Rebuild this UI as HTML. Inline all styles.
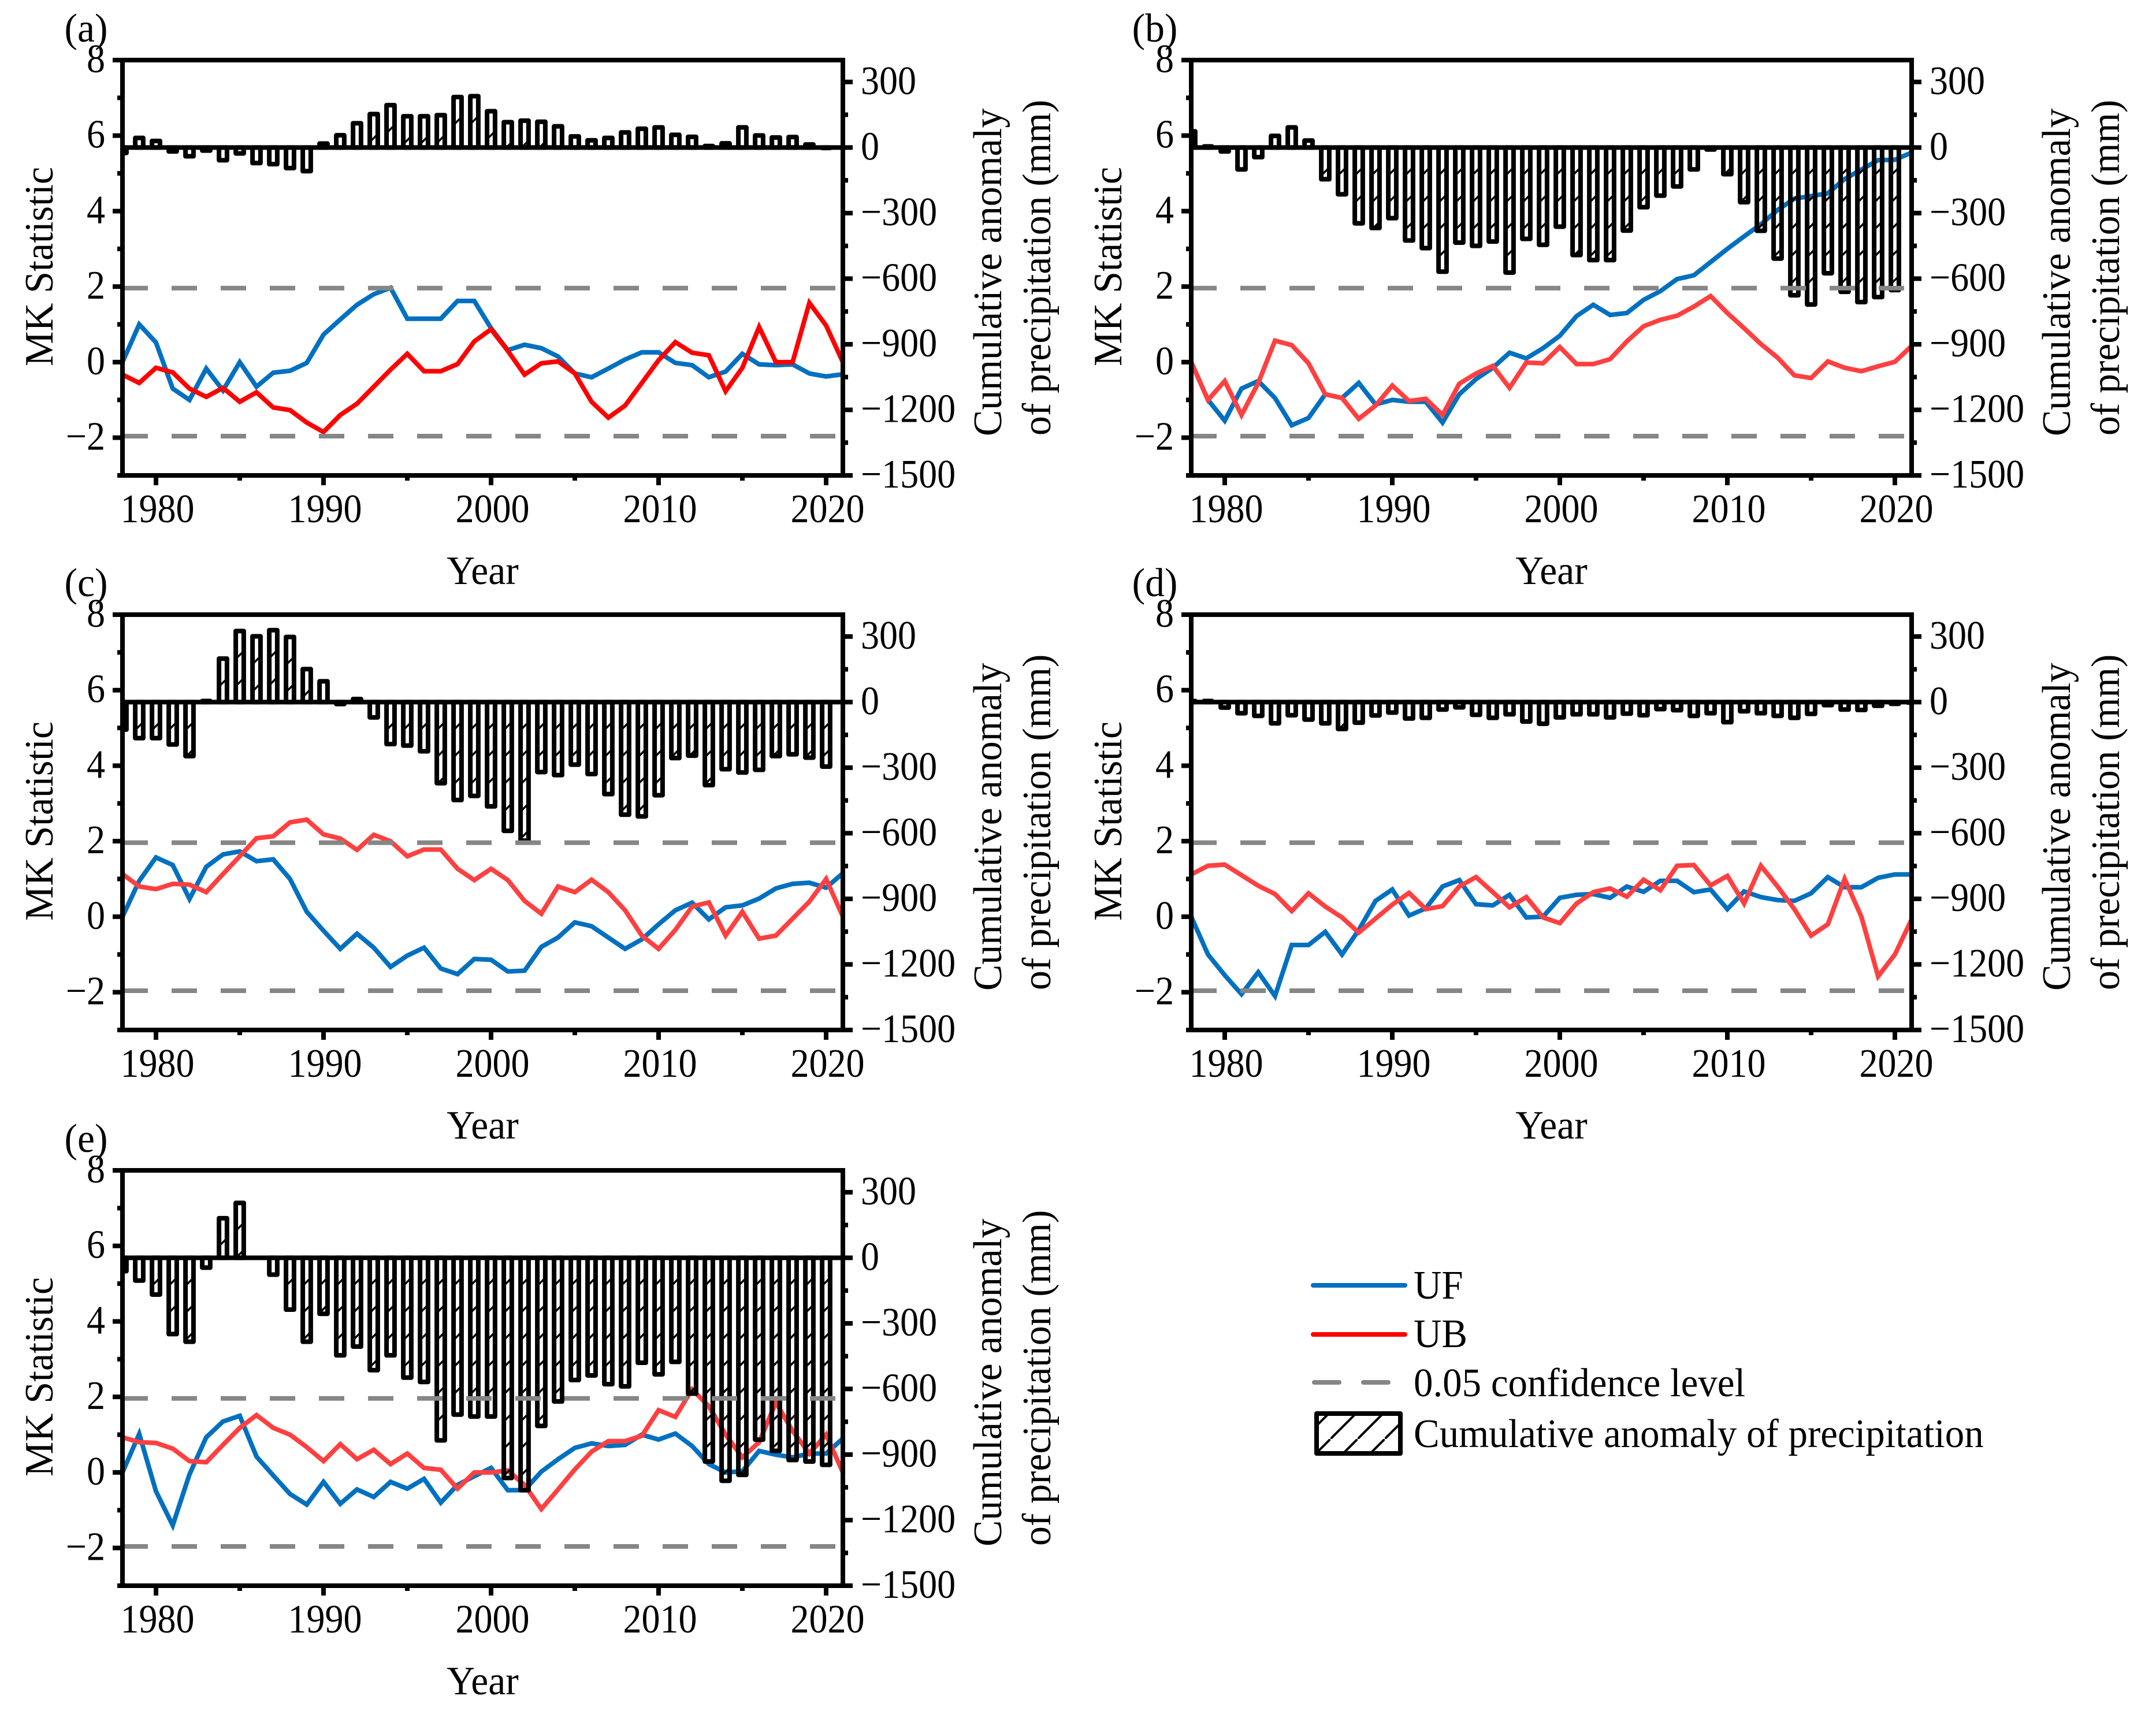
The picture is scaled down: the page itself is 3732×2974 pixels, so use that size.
<!DOCTYPE html>
<html lang="en">
<head>
<meta charset="utf-8">
<title>Mann-Kendall statistic and cumulative precipitation anomaly</title>
<style>
html,body{margin:0;padding:0;background:#fff;}
svg{display:block;}
text{font-family:"Liberation Serif","Times New Roman",serif;fill:#000;}
</style>
</head>
<body>
<svg id="chart" xmlns="http://www.w3.org/2000/svg" width="3732" height="2974" viewBox="0 0 3732 2974">
  <defs>
    <pattern id="hatch" patternUnits="userSpaceOnUse" width="47" height="47">
      <line x1="-4" y1="51" x2="51" y2="-4" stroke="#000" stroke-width="4"/>
    </pattern>
  </defs>
  <rect x="0" y="0" width="3732" height="2974" fill="#fff"/>
  <g id="panels"></g>
  <g id="legend">
    <line x1="2273" y1="2225" x2="2432" y2="2225" stroke="#0070C0" stroke-width="8" stroke-linecap="round"/>
    <text transform="translate(2447,2248) scale(.956,1)" font-size="70">UF</text>
    <line x1="2273" y1="2310" x2="2432" y2="2310" stroke="#FF0000" stroke-width="8" stroke-linecap="round"/>
    <text transform="translate(2447,2332) scale(.956,1)" font-size="70">UB</text>
    <line x1="2275" y1="2393" x2="2318" y2="2393" stroke="#868686" stroke-width="8" stroke-linecap="round"/>
    <line x1="2360" y1="2393" x2="2403" y2="2393" stroke="#868686" stroke-width="8" stroke-linecap="round"/>
    <text transform="translate(2447,2417) scale(.956,1)" font-size="70">0.05 confidence level</text>
    <rect x="2279" y="2447" width="145" height="69" fill="url(#hatch)" stroke="#000" stroke-width="8" stroke-linejoin="round"/>
    <text transform="translate(2447,2505) scale(.956,1)" font-size="70">Cumulative anomaly of precipitation</text>
  </g>
</svg>
<script>
// ---------- data ----------
const startYear = 1978;
const endYear = 2021;
const mkTickValues = [8, 6, 4, 2, 0, -2];
const mkMinorValues = [7, 5, 3, 1, -1, -3];
const mmTickValues = [300, 0, -300, -600, -900, -1200, -1500];
const mmMinorValues = [150, -150, -450, -750, -1050, -1350];
const yearTickValues = [1980, 1990, 2000, 2010, 2020];
const yearMinorValues = [1985, 1995, 2005, 2015];
const confidenceLevels = [1.96, -1.96];

const barsA = [-25,44,30,-18,-40,-14,-58,-27,-71,-76,-94,-108,18,56,111,153,194,143,143,148,231,235,166,116,123,118,97,51,33,44,69,86,92,58,49,7,19,92,55,46,48,14,-2,0];
const ufA = [0,1.0,.52,-.7,-1.0,-.17,-.75,0,-.65,-.28,-.23,-.02,.73,1.13,1.52,1.8,1.97,1.15,1.15,1.15,1.62,1.62,.9,.32,.46,.37,.15,-.3,-.4,-.17,.07,.26,.26,-.02,-.08,-.4,-.25,.22,-.06,-.08,-.06,-.3,-.38,-.32];
const ubA = [-.33,-.55,-.15,-.27,-.7,-.92,-.68,-1.05,-.8,-1.2,-1.27,-1.6,-1.85,-1.4,-1.1,-.65,-.2,.22,-.24,-.24,-.05,.55,.87,.3,-.33,-.03,.02,-.3,-1.05,-1.47,-1.15,-.55,.05,.53,.25,.18,-.77,-.15,.93,0,0,1.57,.97,0];

const barsB = [74,5,-18,-100,-44,53,92,32,-145,-214,-347,-368,-323,-425,-460,-568,-435,-450,-430,-572,-418,-445,-362,-492,-515,-515,-380,-273,-220,-178,-100,-9,-122,-250,-381,-508,-676,-718,-575,-660,-707,-684,-652,0];
const ufB = [0,-1.0,-1.55,-.7,-.5,-.95,-1.67,-1.48,-.85,-.95,-.55,-1.12,-1.0,-1.05,-1.05,-1.6,-.85,-.45,-.15,.25,.1,.37,.7,1.22,1.52,1.25,1.3,1.65,1.88,2.2,2.3,2.65,3.0,3.33,3.65,4.03,4.33,4.4,4.47,4.85,5.1,5.35,5.36,5.55];
const ubB = [0,-1.0,-.5,-1.4,-.55,.57,.45,-.03,-.85,-.95,-1.5,-1.15,-.62,-1.03,-.97,-1.4,-.57,-.3,-.1,-.68,-.01,-.03,.4,-.05,-.05,.08,.55,.95,1.12,1.23,1.47,1.75,1.3,.9,.48,.12,-.35,-.42,.02,-.15,-.24,-.11,.01,.43];

const barsC = [-126,-165,-165,-194,-247,5,199,325,301,329,298,151,95,-9,14,-70,-192,-199,-225,-371,-448,-429,-477,-589,-634,-320,-334,-286,-329,-421,-515,-523,-426,-256,-245,-380,-307,-322,-310,-247,-239,-254,-295,0];
const ufC = [0,.95,1.57,1.37,.47,1.32,1.65,1.73,1.47,1.52,1.0,.13,-.37,-.85,-.45,-.82,-1.33,-1.03,-.82,-1.37,-1.52,-1.12,-1.14,-1.45,-1.43,-.8,-.55,-.15,-.25,-.55,-.85,-.6,-.2,.17,.37,-.07,.25,.3,.48,.75,.87,.9,.77,1.15];
const ubC = [1.13,.8,.73,.87,.85,.65,1.13,1.6,2.08,2.13,2.5,2.57,2.18,2.07,1.77,2.17,2.0,1.6,1.78,1.78,1.27,.97,1.27,.97,.42,.08,.8,.65,.98,.65,.17,-.5,-.85,-.35,.27,.38,-.5,.13,-.58,-.5,-.05,.4,1.0,0];

const barsD = [5,5,-25,-51,-63,-97,-60,-80,-97,-123,-94,-61,-48,-75,-72,-34,-24,-58,-72,-56,-89,-99,-70,-56,-56,-70,-53,-60,-32,-37,-63,-51,-92,-42,-51,-63,-72,-54,-14,-34,-36,-17,-8,-2];
const ufD = [0,-1.0,-1.55,-2.05,-1.47,-2.1,-.75,-.75,-.4,-1.0,-.35,.42,.72,.03,.22,.8,.97,.33,.3,.58,-.02,0,.5,.58,.6,.5,.8,.66,.95,.95,.65,.72,.2,.67,.52,.44,.42,.62,1.05,.78,.78,1.03,1.12,1.12];
const ubD = [1.12,1.35,1.38,1.1,.82,.6,.15,.62,.27,-.02,-.42,-.05,.32,.63,.2,.28,.8,1.05,.65,.25,.52,-.02,-.17,.35,.65,.75,.53,.98,.7,1.35,1.37,.83,1.08,.35,1.35,.8,.2,-.5,-.2,1.0,0,-1.58,-1.0,-.07];

const barsE = [-61,-104,-168,-349,-384,-45,181,251,0,-77,-237,-384,-256,-446,-406,-514,-446,-548,-568,-835,-717,-726,-726,-1007,-1063,-769,-657,-559,-538,-578,-588,-480,-533,-476,-621,-932,-1020,-993,-832,-883,-925,-932,-947,0];
const ufE = [0,1.02,-.5,-1.4,-.05,.93,1.35,1.5,.42,-.08,-.57,-.85,-.25,-.83,-.45,-.65,-.25,-.43,-.17,-.8,-.33,-.1,.12,-.47,-.47,.02,.35,.65,.77,.7,.73,1.0,.87,1.03,.7,.22,0,.03,.57,.47,.4,.5,.5,.9];
const ubE = [.93,.8,.78,.63,.3,.27,.73,1.18,1.52,1.18,1.0,.67,.3,.75,.35,.6,.22,.5,.12,.07,-.43,0,0,.05,-.33,-.97,-.45,.08,.55,.83,.83,.97,1.65,1.47,2.2,1.75,1.0,.4,.8,1.85,1.1,.5,1.0,0];

// ---------- rendering ----------
const NS = 'http://www.w3.org/2000/svg';
const root = document.getElementById('panels');
const PLOT_W = 1247;
const PLOT_H = 719;
const MK_MIN = -3, MK_MAX = 8, MM_MIN = -1500, MM_MAX = 400;
const TICK_FONT = 70, TICK_SQUEEZE = .915, TITLE_FONT = 70, TITLE_SQUEEZE = .965;

function make(tag, attrs, parent) {
  const node = document.createElementNS(NS, tag);
  for (const k in attrs) node.setAttribute(k, attrs[k]);
  parent.appendChild(node);
  return node;
}
function label(parent, x, y, str, size, squeeze, anchor, rotate) {
  const node = make('text', {
    transform: 'translate(' + x + ',' + y + ')' + (rotate ? ' rotate(' + rotate + ')' : '') + ' scale(' + squeeze + ',1)',
    'font-size': size,
    'text-anchor': anchor
  }, parent);
  node.textContent = str;
  return node;
}
function fmt(v) { return v < 0 ? '\u2212' + Math.abs(v) : String(v); }

function drawPanel(id, tag, left, top, bars, uf, ub, ubColor) {
  const xScale = function (year) { return left + (year - startYear) * PLOT_W / (endYear - startYear); };
  const yMK = function (v) { return top + (MK_MAX - v) * PLOT_H / (MK_MAX - MK_MIN); };
  const yMM = function (v) { return top + (MM_MAX - v) * PLOT_H / (MM_MAX - MM_MIN); };
  const right = left + PLOT_W, bottom = top + PLOT_H;

  const g = make('g', {}, root);
  
  

  const clip = make('clipPath', { id: 'clip-' + id }, g);
  make('rect', { x: left, y: top, width: PLOT_W, height: PLOT_H }, clip);

  const lineGroup = make('g', { 'clip-path': 'url(#clip-' + id + ')', fill: 'none', 'stroke-width': 8, 'stroke-linejoin': 'miter' }, g);
  
  
  const ufLine = make('polyline', { stroke: '#0070C0', points: uf.map(function (v, i) { return xScale(startYear + i).toFixed(1) + ',' + yMK(v).toFixed(1); }).join(' ') }, lineGroup);
  
  
  const ubLine = make('polyline', { stroke: ubColor, points: ub.map(function (v, i) { return xScale(startYear + i).toFixed(1) + ',' + yMK(v).toFixed(1); }).join(' ') }, lineGroup);
  
  

  const barGroup = make('g', { 'clip-path': 'url(#clip-' + id + ')' }, g);
  
  
  bars.forEach(function (v, i) {
    if (v === 0) return;
    const cx = xScale(startYear + i);
    const y0 = yMM(0), y1 = yMM(v);
    const barTop = Math.min(y0, y1), barBottom = Math.max(y0, y1);
    const bar = make('rect', {
      x: cx - 6.9,
      y: barTop,
      width: 13.8,
      height: barBottom - barTop,
      fill: 'none',
      stroke: '#000',
      'stroke-width': 8,
      'stroke-linejoin': 'round'
    }, barGroup);
    
    
    for (let hy = barTop + 41.5; hy < barBottom - 2; hy += 47) {
      const mark = make('line', { x1: cx - 5, y1: hy + 5, x2: cx + 5, y2: hy - 5, stroke: '#000', 'stroke-width': 3.5 }, barGroup);
      
      
    }
  });

  const zero = make('line', { x1: left, x2: right, y1: yMM(0), y2: yMM(0), stroke: '#000', 'stroke-width': 8 }, g);
  
  

  confidenceLevels.forEach(function (c) {
    const dash = make('line', { x1: left, x2: right - 4, y1: yMK(c) , y2: yMK(c), stroke: '#868686', 'stroke-width': 8, 'stroke-dasharray': '44 41' }, g);
    
    
  });

  const frame = make('g', { stroke: '#000', fill: 'none' }, g);
  
  
  make('line', { x1: left - 17, x2: right + 4, y1: top, y2: top, 'stroke-width': 8 }, frame);
  make('line', { x1: left - 9, x2: right + 17, y1: bottom, y2: bottom, 'stroke-width': 8 }, frame);
  make('line', { x1: left, x2: left, y1: top, y2: bottom, 'stroke-width': 8 }, frame);
  make('line', { x1: right, x2: right, y1: top, y2: bottom, 'stroke-width': 8 }, frame);

  mkTickValues.forEach(function (v) {
    make('line', { x1: left - 17, x2: left, y1: yMK(v), y2: yMK(v), 'stroke-width': 8 }, frame);
    const t = label(g, left - 30, yMK(v) + 21, fmt(v), TICK_FONT, TICK_SQUEEZE, 'end');
    
    
  });
  mkMinorValues.forEach(function (v) {
    make('line', { x1: left - 9, x2: left, y1: yMK(v), y2: yMK(v), 'stroke-width': 8 }, frame);
  });
  mmTickValues.forEach(function (v) {
    make('line', { x1: right, x2: right + 17, y1: yMM(v), y2: yMM(v), 'stroke-width': 8 }, frame);
    const t = label(g, right + 31, yMM(v) + 21, fmt(v), TICK_FONT, TICK_SQUEEZE, 'start');
    
    
  });
  mmMinorValues.forEach(function (v) {
    make('line', { x1: right, x2: right + 9, y1: yMM(v), y2: yMM(v), 'stroke-width': 8 }, frame);
  });
  yearTickValues.forEach(function (v) {
    make('line', { x1: xScale(v), x2: xScale(v), y1: bottom, y2: bottom + 17, 'stroke-width': 8 }, frame);
    const t = label(g, xScale(v) + 2.5, bottom + 81, String(v), TICK_FONT, TICK_SQUEEZE, 'middle');
    
    
  });
  yearMinorValues.forEach(function (v) {
    make('line', { x1: xScale(v), x2: xScale(v), y1: bottom, y2: bottom + 9, 'stroke-width': 8 }, frame);
  });

  const tagText = label(g, left - 63, top - 32, tag, TITLE_FONT, TITLE_SQUEEZE, 'middle');
  
  

  const xTitle = label(g, left + PLOT_W / 2, bottom + 188, 'Year', TITLE_FONT, TITLE_SQUEEZE, 'middle');
  
  

  const yTitle = label(g, left - 121, top + 530, 'MK Statistic', TITLE_FONT, .97, 'start', -90);
  
  

  const rTitle1 = label(g, right + 274, top + 651, 'Cumulative anomaly', TITLE_FONT, .97, 'start', -90);
  
  

  const rTitle2 = label(g, right + 359, top + 650, 'of precipitation (mm)', TITLE_FONT, .965, 'start', -90);
  
  
}

drawPanel('a', '(a)', 212, 104, barsA, ufA, ubA, '#FF0000');
drawPanel('b', '(b)', 2062, 104, barsB, ufB, ubB, '#FF4040');
drawPanel('c', '(c)', 212, 1064, barsC, ufC, ubC, '#FF4040');
drawPanel('d', '(d)', 2062, 1064, barsD, ufD, ubD, '#FF4040');
drawPanel('e', '(e)', 212, 2026, barsE, ufE, ubE, '#FF4040');
</script>
</body>
</html>
